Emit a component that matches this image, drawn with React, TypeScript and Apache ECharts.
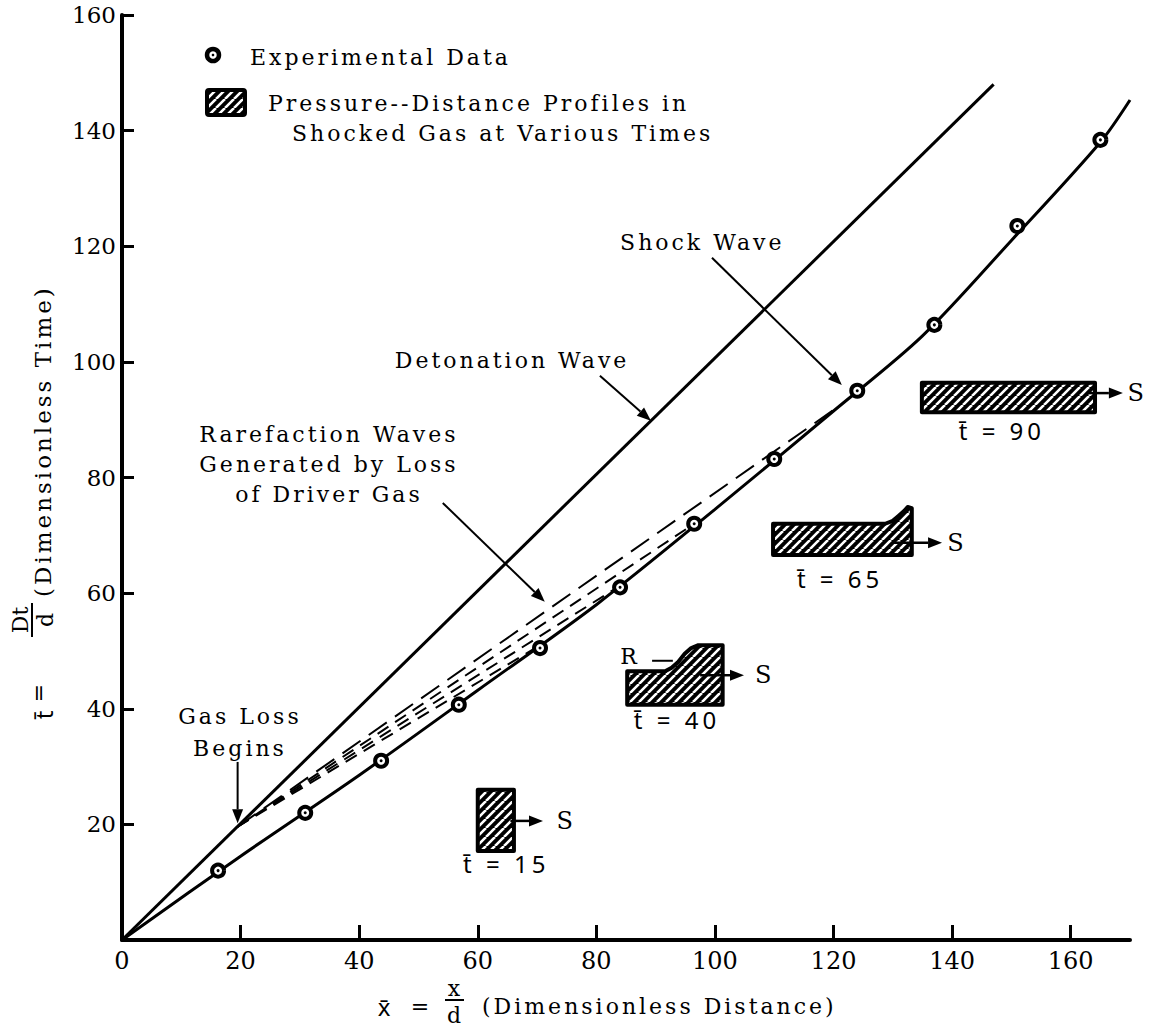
import React, { useEffect, useRef } from "react";
import * as echarts from "echarts";

// Axis ticks
const xTicks = [0, 20, 40, 60, 80, 100, 120, 140, 160];
const tTicks = [20, 40, 60, 80, 100, 120, 140, 160];

// Experimental shock arrivals (dimensionless distance, dimensionless time)
const expX = [16.2, 30.9, 43.7, 56.8, 70.5, 84.0, 96.5, 110.0, 124.0, 137.0, 151.0, 165.0];
const expT = [12.0, 22.0, 31.0, 40.7, 50.5, 61.0, 72.0, 83.2, 95.0, 106.4, 123.5, 138.4];

// Faired shock wave trajectory
const shockX = [0, 20, 40, 60, 80, 100, 120, 135, 150, 165, 170];
const shockT = [0, 14.5, 28.5, 43.2, 58.0, 74.5, 91.5, 104.5, 121.0, 138.0, 145.3];

// Detonation wave trajectory
const detX = [0, 147];
const detT = [0, 148];

// Onset of gas loss on the detonation front and the rarefaction wave arrivals on the shock
const gasLossX = 19.5;
const gasLossT = 19.6;
const rareEndX = [121.0, 96.5, 84.0, 70.5];
const rareEndT = [92.4, 72.0, 61.3, 51.0];

// Pressure-distance profiles shown at these times
const profileTimes = [15, 40, 65, 90];

// Layout of the profile insets (in axis units)
const profileOutlines: number[][][] = [
  [[60.0, 15.4], [60.0, 26.0], [66.1, 26.0], [66.1, 15.4]],
  [[85.2, 40.7], [85.2, 46.5], [91.6, 46.5], [92.7, 47.1], [93.8, 48.1], [94.9, 49.5], [96.0, 50.5], [97.2, 51.0], [101.3, 51.0], [101.3, 40.7]],
  [[109.8, 66.6], [109.8, 72.0], [128.7, 72.0], [130.0, 72.5], [131.0, 73.4], [131.9, 74.2], [132.5, 74.9], [133.2, 74.7], [133.2, 66.6]],
  [[134.9, 91.3], [134.9, 96.4], [164.1, 96.4], [164.1, 91.3]],
];
// [arrow start x, arrow end x, arrow t, "S" x]
const profileArrows = [
  [65.5, 71.0, 20.6, 74.9],
  [97.5, 104.9, 45.8, 108.4],
  [130.0, 138.3, 68.7, 140.8],
  [163.0, 168.8, 94.6, 171.2],
];
const profileLabelPos = [[64.8, 13.3], [93.6, 38.1], [121.1, 62.6], [148.4, 88.2]];

const TICK_FONT = "DejaVu Serif";
const NOTE_FONT = "DejaVu Serif, serif";
const BAR_FONT = "Noto Sans, sans-serif";
const NOTE_SIZE = 22;

function makeHatch(): string {
  const s = 9;
  const cv = document.createElement("canvas");
  cv.width = s;
  cv.height = s;
  const g = cv.getContext("2d")!;
  g.fillStyle = "#000";
  g.fillRect(0, 0, s, s);
  g.strokeStyle = "#fff";
  g.lineWidth = 2.6;
  g.beginPath();
  for (const k of [-s, 0, s]) {
    g.moveTo(k, s);
    g.lineTo(k + s, 0);
  }
  g.stroke();
  return cv.toDataURL();
}

function arrowParts(p0: number[], p1: number[], width: number, headLen = 14, headHalf = 5.5) {
  const dx = p1[0] - p0[0];
  const dy = p1[1] - p0[1];
  const len = Math.hypot(dx, dy) || 1;
  const ux = dx / len;
  const uy = dy / len;
  const bx = p1[0] - ux * headLen;
  const by = p1[1] - uy * headLen;
  return [
    {
      type: "line",
      shape: { x1: p0[0], y1: p0[1], x2: bx, y2: by },
      style: { stroke: "#000", lineWidth: width },
    },
    {
      type: "polygon",
      shape: {
        points: [
          [p1[0], p1[1]],
          [bx - uy * headHalf, by + ux * headHalf],
          [bx + uy * headHalf, by - ux * headHalf],
        ],
      },
      style: { fill: "#000" },
    },
  ];
}

function noteText(text: string, x: number, y: number, align = "left", size = NOTE_SIZE, family = NOTE_FONT) {
  return {
    type: "text",
    style: {
      text,
      x,
      y,
      fill: "#000",
      fontSize: size,
      fontFamily: family,
      align,
      verticalAlign: "middle",
    },
  };
}

export default function App() {
  const ref = useRef<HTMLDivElement>(null);

  useEffect(() => {
    const styleEl = document.createElement("style");
    styleEl.textContent =
      'text[style*=", serif"], text[style*=",serif"] { letter-spacing: 3px; }\n' +
      'text[style*="sans-serif"] { letter-spacing: 4px; }';
    document.head.appendChild(styleEl);

    const chart = echarts.init(ref.current!, undefined, { renderer: "svg" });
    const hatch = { image: makeHatch(), repeat: "repeat", imageWidth: 9, imageHeight: 9 };

    const renderNotes = (_params: any, api: any) => {
      const P = (x: number, t: number) => api.coord([x, t]);
      const children: any[] = [];

      // profile insets
      profileOutlines.forEach((outline, i) => {
        children.push({
          type: "polygon",
          shape: { points: outline.map((p) => P(p[0], p[1])) },
          style: { fill: hatch, stroke: "#000", lineWidth: 4, lineJoin: "round" },
        });
        const a = profileArrows[i];
        children.push(...arrowParts(P(a[0], a[2]), P(a[1], a[2]), 2.5));
        const sp = P(a[3], a[2]);
        children.push(noteText("S", sp[0], sp[1], "center", 24));
        const lp = P(profileLabelPos[i][0], profileLabelPos[i][1]);
        children.push(noteText("t\u0304 = " + profileTimes[i], lp[0], lp[1], "center", 24, BAR_FONT));
      });
      // rarefaction marker on the t = 40 profile
      const r = P(85.7, 49.0);
      children.push(noteText("R", r[0], r[1], "center"));
      const r0 = P(89.4, 48.3);
      const r1 = P(92.9, 48.3);
      children.push({
        type: "line",
        shape: { x1: r0[0], y1: r0[1], x2: r1[0], y2: r1[1] },
        style: { stroke: "#000", lineWidth: 2 },
      });

      // labels with leader arrows
      const sw = P(84.0, 120.6);
      children.push(noteText("Shock Wave", sw[0], sw[1]));
      children.push(...arrowParts(P(99.5, 118.0), P(121.4, 96.0), 2));

      const dw = P(46.0, 100.3);
      children.push(noteText("Detonation Wave", dw[0], dw[1]));
      children.push(...arrowParts(P(80.6, 97.6), P(89.2, 89.8), 2));

      const rw = [
        ["Rarefaction Waves", 87.4],
        ["Generated by Loss", 82.2],
        ["of Driver Gas", 77.0],
      ] as [string, number][];
      rw.forEach(([s, t]) => {
        const p = P(34.9, t);
        children.push(noteText(s, p[0], p[1], "center"));
      });
      children.push(...arrowParts(P(54.1, 75.6), P(71.3, 58.5), 2));

      const g1 = P(19.9, 38.6);
      const g2 = P(19.9, 33.2);
      children.push(noteText("Gas Loss", g1[0], g1[1], "center"));
      children.push(noteText("Begins", g2[0], g2[1], "center"));
      children.push(...arrowParts(P(gasLossX, 30.8), P(gasLossX, gasLossT + 0.6), 2));

      return { type: "group", children };
    };

    const rareSeries = rareEndX.map((ex, i) => ({
      type: "line",
      data: [
        [gasLossX, gasLossT],
        [ex, rareEndT[i]],
      ],
      showSymbol: false,
      lineStyle: { color: "#000", width: 2, type: i === 0 ? [22, 10] : [13, 8] },
      silent: true,
      z: 2,
    }));

    chart.setOption({
      animation: false,
      grid: { left: 122, right: 20, top: 15, bottom: 89 },
      xAxis: {
        type: "value",
        min: 0,
        max: 170,
        interval: 20,
        axisLine: { lineStyle: { color: "#000", width: 4 } },
        axisTick: { inside: true, length: 15, lineStyle: { color: "#000", width: 3 }, customValues: xTicks },
        axisLabel: { customValues: xTicks, color: "#000", fontFamily: TICK_FONT, fontSize: 24, margin: 9 },
        splitLine: { show: false },
      },
      yAxis: {
        type: "value",
        min: 0,
        max: 160,
        interval: 20,
        axisLine: { lineStyle: { color: "#000", width: 4 } },
        axisTick: { inside: true, length: 12, lineStyle: { color: "#000", width: 3 }, customValues: tTicks },
        axisLabel: { customValues: tTicks, color: "#000", fontFamily: TICK_FONT, fontSize: 23, margin: 6 },
        splitLine: { show: false },
      },
      series: [
        {
          type: "line",
          name: "Detonation Wave",
          data: detX.map((x, i) => [x, detT[i]]),
          showSymbol: false,
          lineStyle: { color: "#000", width: 3 },
          silent: true,
          z: 3,
        },
        {
          type: "line",
          name: "Shock Wave",
          data: shockX.map((x, i) => [x, shockT[i]]),
          showSymbol: false,
          smooth: 0.3,
          lineStyle: { color: "#000", width: 3 },
          silent: true,
          z: 3,
        },
        ...rareSeries,
        {
          type: "scatter",
          name: "Experimental Data",
          data: expX.map((x, i) => [x, expT[i]]),
          symbol: "circle",
          symbolSize: 12,
          itemStyle: { color: "#fff", borderColor: "#000", borderWidth: 4, opacity: 1 },
          silent: true,
          z: 5,
        },
        {
          type: "scatter",
          data: expX.map((x, i) => [x, expT[i]]),
          symbol: "circle",
          symbolSize: 3,
          itemStyle: { color: "#000", opacity: 1 },
          silent: true,
          z: 6,
        },
        {
          type: "custom",
          data: [[0, 0]],
          renderItem: renderNotes,
          clip: false,
          silent: true,
          z: 7,
        },
      ],
      graphic: [
        // key
        { type: "circle", shape: { cx: 213, cy: 55, r: 6 }, style: { fill: "#fff", stroke: "#000", lineWidth: 4.5 } },
        { type: "circle", shape: { cx: 213, cy: 55, r: 1.3 }, style: { fill: "#000" } },
        { type: "text", x: 250, y: 57, style: { text: "Experimental Data", fontSize: NOTE_SIZE, fontFamily: NOTE_FONT, fill: "#000", align: "left", verticalAlign: "middle" } },
        { type: "rect", shape: { x: 207, y: 90, width: 38, height: 25, r: 2 }, style: { fill: hatch, stroke: "#000", lineWidth: 4 } },
        { type: "text", x: 268, y: 103, style: { text: "Pressure--Distance Profiles in", fontSize: NOTE_SIZE, fontFamily: NOTE_FONT, fill: "#000", align: "left", verticalAlign: "middle" } },
        { type: "text", x: 292, y: 133, style: { text: "Shocked Gas at Various Times", fontSize: NOTE_SIZE, fontFamily: NOTE_FONT, fill: "#000", align: "left", verticalAlign: "middle" } },
        // x axis title
        {
          type: "group",
          x: 0,
          y: 0,
          children: [
            { type: "text", x: 386, y: 1006, style: { text: "x\u0304", fontSize: 24, fontFamily: BAR_FONT, fill: "#000", align: "center", verticalAlign: "middle" } },
            { type: "text", x: 420, y: 1006, style: { text: "=", fontSize: NOTE_SIZE, fontFamily: TICK_FONT, fill: "#000", align: "center", verticalAlign: "middle" } },
            { type: "text", x: 454, y: 988, style: { text: "x", fontSize: NOTE_SIZE, fontFamily: TICK_FONT, fill: "#000", align: "center", verticalAlign: "middle" } },
            { type: "line", shape: { x1: 445, y1: 1000, x2: 464, y2: 1000 }, style: { stroke: "#000", lineWidth: 2 } },
            { type: "text", x: 454, y: 1015, style: { text: "d", fontSize: NOTE_SIZE, fontFamily: TICK_FONT, fill: "#000", align: "center", verticalAlign: "middle" } },
            { type: "text", x: 482, y: 1006, style: { text: "(Dimensionless Distance)", fontSize: NOTE_SIZE, fontFamily: NOTE_FONT, fill: "#000", align: "left", verticalAlign: "middle" } },
          ],
        },
        // y axis title
        {
          type: "group",
          x: 43,
          y: 727,
          rotation: Math.PI / 2,
          children: [
            { type: "text", x: 14, y: 0, style: { text: "t\u0304", fontSize: 24, fontFamily: BAR_FONT, fill: "#000", align: "center", verticalAlign: "middle" } },
            { type: "text", x: 34, y: -5, style: { text: "=", fontSize: NOTE_SIZE, fontFamily: TICK_FONT, fill: "#000", align: "center", verticalAlign: "middle" } },
            { type: "text", x: 107, y: -23, style: { text: "Dt", fontSize: NOTE_SIZE, fontFamily: TICK_FONT, fill: "#000", align: "center", verticalAlign: "middle" } },
            { type: "line", shape: { x1: 90, y1: -11, x2: 124, y2: -11 }, style: { stroke: "#000", lineWidth: 2 } },
            { type: "text", x: 107, y: 2, style: { text: "d", fontSize: NOTE_SIZE, fontFamily: TICK_FONT, fill: "#000", align: "center", verticalAlign: "middle" } },
            { type: "text", x: 130, y: 0, style: { text: "(Dimensionless Time)", fontSize: 23, fontFamily: NOTE_FONT, fill: "#000", align: "left", verticalAlign: "middle" } },
          ],
        },
      ],
    });

    return () => {
      chart.dispose();
      styleEl.remove();
    };
  }, []);

  return (
    <div
      ref={ref}
      style={{ position: "absolute", left: 0, top: 0, width: 1150, height: 1029, background: "#fff" }}
    />
  );
}
